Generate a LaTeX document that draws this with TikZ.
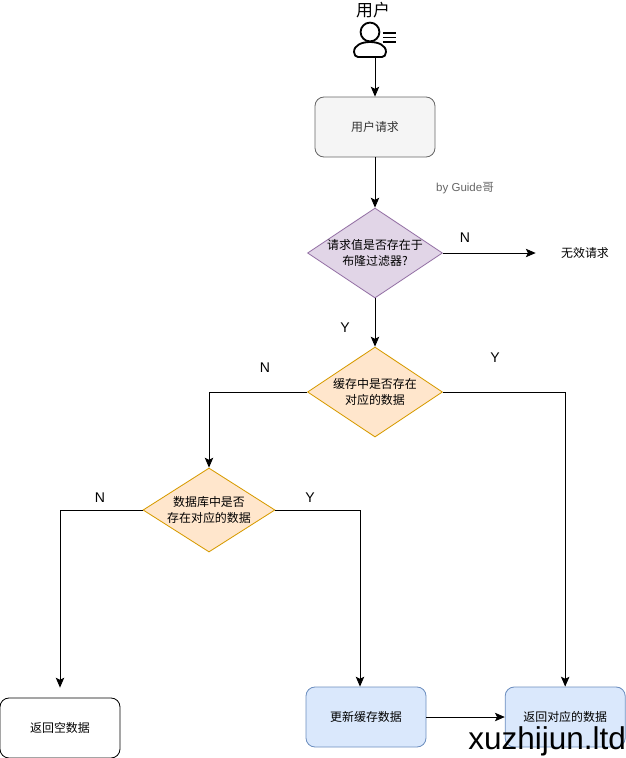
\documentclass[tikz,border=0pt]{standalone}
\usepackage{fontspec}
\usepackage{tikz}
\usetikzlibrary{calc, arrows.meta, shapes.geometric}
\setmainfont{Liberation Sans}
\newfontfamily\cjk{Noto Sans CJK SC}
\definecolor{reqfill}{HTML}{F5F5F5}
\definecolor{reqdraw}{HTML}{666666}
\definecolor{reqtext}{HTML}{333333}
\definecolor{bloomfill}{HTML}{E1D5E7}
\definecolor{bloomdraw}{HTML}{9673A6}
\definecolor{checkfill}{HTML}{FFE6CC}
\definecolor{checkdraw}{HTML}{D79B00}
\definecolor{updfill}{HTML}{DAE8FC}
\definecolor{upddraw}{HTML}{6C8EBF}
\tikzstyle{txt}=[font=\cjk\fontsize{8.5}{11}\selectfont, align=center]
\tikzstyle{lbl}=[font=\fontsize{10}{12}\selectfont, inner sep=0pt]
\tikzstyle{int}=[draw, txt, rounded corners=0.225cm, minimum width=3cm, minimum height=1.5cm]
\tikzstyle{dec}=[draw, txt, diamond, aspect=1.5, inner sep=-5pt, minimum width=3.375cm, minimum height=2.25cm]

\begin{document}
\begin{tikzpicture}[node distance=2cm,auto,>={Stealth[length=7pt,width=6pt,inset=1.5pt]},line width=0.6pt]
      \useasboundingbox (0,0) rectangle (15.65,-18.95);

      \node (user) [coordinate] at (9.375,-1.45) {};
      \node [font=\cjk\fontsize{12}{14}\selectfont, inner sep=0pt] (username) [above of=user, node distance=1.2cm, xshift=-0.05cm] {用户};

      \node [int, fill=reqfill, draw=reqdraw, text=reqtext] (req) [below of=user, node distance=1.725cm] {用户请求};
      \node [dec, fill=bloomfill, draw=bloomdraw] (bloom) [below of=req, node distance=3.15cm] {请求值是否存在于\\布隆过滤器?};
      \node [dec, fill=checkfill, draw=checkdraw] (cache) [below of=bloom, node distance=3.475cm] {缓存中是否存在\\对应的数据};
      \node [dec, fill=checkfill, draw=checkdraw, minimum width=3.3cm, minimum height=2.1cm] (db) [below of=cache, node distance=2.95cm, xshift=-4.15cm] {数据库中是否\\存在对应的数据};

      \node [txt, inner sep=0pt] (invalid) [right of=bloom, node distance=5.25cm] {无效请求};
      \node [int] (empty) [below of=db, node distance=5.45cm, xshift=-3.725cm] {返回空数据};
      \node [int, fill=updfill, draw=upddraw] (upd) [below of=db, node distance=5.175cm, xshift=3.925cm] {更新缓存数据};
      \node [int, fill=updfill, draw=upddraw] (ret) [right of=upd, node distance=4.98cm] {返回对应的数据};

      \node [font=\fontsize{8.2}{10}\selectfont, inner sep=0pt, text=reqdraw] (byline) [above of=bloom, node distance=1.625cm, xshift=2.25cm] {by Guide{\cjk 哥}};
      \node [lbl] (bloomn) [right of=bloom, node distance=2.25cm, yshift=0.375cm] {N};
      \node [lbl] (bloomy) [below of=bloom, node distance=1.875cm, xshift=-0.75cm] {Y};
      \node [lbl] (cachey) [above of=cache, node distance=0.85cm, xshift=3cm] {Y};
      \node [lbl] (cachen) [above of=cache, node distance=0.6cm, xshift=-2.75cm] {N};
      \node [lbl] (dbn) [left of=db, node distance=2.725cm, yshift=0.3cm] {N};
      \node [lbl] (dby) [right of=db, node distance=2.525cm, yshift=0.3cm] {Y};

      % icon
      \begin{scope}[shift={(user)}, x=0.025cm, y=-0.025cm, line width=1.3pt]
        \node [circle, draw, inner sep=0pt, minimum size=0.47cm] (head) at (-5,-26) {};
        \draw (-21,-6) .. controls (-21,-13) and (-13,-16) .. (-5,-16) .. controls (3,-16) and (11,-13) .. (11,-6) .. controls (11,-3) and (9,-1) .. (7,-1) -- (-17,-1) .. controls (-19,-1) and (-21,-3) .. (-21,-6) -- cycle;
        \draw[line width=0.8pt] (8,-25) -- (21,-25);
        \draw[line width=0.8pt] (8,-20.5) -- (21,-20.5);
        \draw[line width=0.8pt] (8,-16) -- (21,-16);
      \end{scope}

      \path[->] (user) edge node {} (req);
      \path[->] (req) edge node {} (bloom);
      \path[->] (bloom) edge node {} (cache);
      \path[->, shorten >=0.625cm] (bloom) edge node {} (invalid);

      \draw[->] (cache.east) -| (ret.north);
      \draw[->] (cache.west) -| (db.north);
      \draw[->] (db.east) -| ([xshift=-0.15cm]upd.north);
      \draw[->, shorten >=0.25cm] (db.west) -| (empty.north);
      \path[->] (upd) edge node {} (ret);

      \node [font=\fontsize{22.4}{26}\selectfont, inner sep=0pt] (mark) [below of=ret, node distance=0.6cm, xshift=-0.45cm] {xuzhijun.ltd};
\end{tikzpicture}
\end{document}
